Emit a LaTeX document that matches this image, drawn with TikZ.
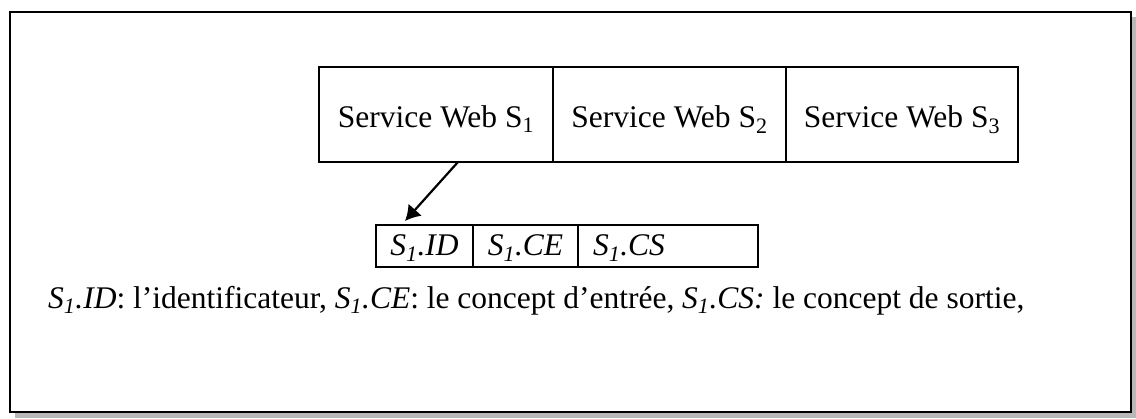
\documentclass[tikz,border=0pt]{standalone}
\usepackage{fontspec}
\setmainfont{Liberation Serif}
\usetikzlibrary{arrows.meta}
\tikzset{
  cell/.style={draw=black, line width=2.1pt, inner sep=0pt},
  wscell/.style={cell, minimum height=95pt, text height=25pt, text depth=0pt},
  fldcell/.style={cell, minimum height=42pt, text height=20pt, text depth=0.5pt},
  link/.style={line width=2.2pt, -{Latex[length=15pt,width=18pt]}},
}
\begin{document}
\begin{tikzpicture}[x=1pt, y=-1pt, font=\fontsize{31.5}{36}\selectfont]
\useasboundingbox (0,0) rectangle (1136,418);
% frame with drop shadow
\fill[black!28] (15,17) rectangle (1136,418);
\draw[line width=2.6pt, fill=white] (10,12) rectangle (1131,412);

% the three web services
\node[wscell, minimum width=234pt] (ws1) at (436,114.5) {Service Web S\textsubscript{1}};
\node[wscell, minimum width=233pt] (ws2) at (669.5,114.5) {Service Web S\textsubscript{2}};
\node[wscell, minimum width=232pt] (ws3) at (902,114.5) {Service Web S\textsubscript{3}};

% fields of S1
\node[fldcell, minimum width=97pt] (id) at (424.5,246) {\itshape S\textsubscript{1}.ID};
\node[fldcell, minimum width=105pt] (ce) at (525.5,246) {\itshape S\textsubscript{1}.CE};
\node[fldcell, text width=150pt, inner xsep=15pt, align=left] (cs) at (668,246) {\itshape S\textsubscript{1}.CS};

% link from the service to its description
\coordinate (from) at (458,162);
\coordinate (to) at (405,221);
\draw[link] (from) -- (to);

% legend
\node[anchor=base west, inner sep=0pt] (legend) at (48,308)
  {\textit{S\textsubscript{1}.ID}: l’identificateur, \textit{S\textsubscript{1}.CE}: le concept d’entrée, \textit{S\textsubscript{1}.CS:} le concept de sortie,};
\end{tikzpicture}
\end{document}
